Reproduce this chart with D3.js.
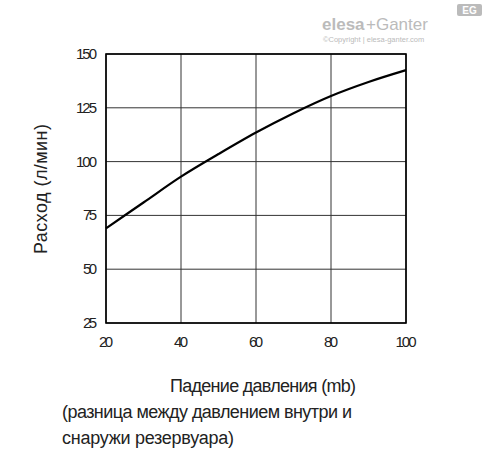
<!DOCTYPE html>
<html><head><meta charset="utf-8">
<script src="https://cdn.jsdelivr.net/npm/d3@7"></script>
<style>body{margin:0;background:#fff}</style>
</head><body>
<script>
const pressure = [20, 30, 40, 50, 60, 70, 80, 90, 100];
const flow = [69, 81, 93, 103.5, 113.5, 122.5, 130.5, 137, 142.5];
const xTicks = [20, 40, 60, 80, 100];
const yTicks = [25, 50, 75, 100, 125, 150];

const svg = d3.select('body').append('svg').attr('width', 488).attr('height', 454);
const x = d3.scaleLinear().domain([20, 100]).range([106, 406]);
const y = d3.scaleLinear().domain([25, 150]).range([323, 54]);
const font = 'Arial, "Liberation Sans", sans-serif';

// grid
svg.append('g').selectAll('line').data(xTicks).join('line')
    .attr('x1', d => x(d)).attr('x2', d => x(d)).attr('y1', y(150)).attr('y2', y(25))
    .attr('stroke', '#333').attr('stroke-width', 1);
svg.append('g').selectAll('line').data(yTicks).join('line')
    .attr('x1', x(20)).attr('x2', x(100)).attr('y1', d => y(d)).attr('y2', d => y(d))
    .attr('stroke', '#333').attr('stroke-width', 1);
svg.append('rect').attr('x', x(20)).attr('y', y(150))
    .attr('width', x(100) - x(20)).attr('height', y(25) - y(150))
    .attr('fill', 'none').attr('stroke', '#000').attr('stroke-width', 1.6);

// tick labels
svg.append('g').selectAll('text').data(xTicks).join('text')
    .attr('x', d => x(d)).attr('y', 347).attr('text-anchor', 'middle')
    .attr('font-family', font).attr('font-size', 15).attr('textLength', d => String(d).length * 7)
    .attr('fill', '#222').text(d => d);
svg.append('g').selectAll('text').data(yTicks).join('text')
    .attr('x', 97).attr('y', d => y(d) + 5).attr('text-anchor', 'end')
    .attr('font-family', font).attr('font-size', 15).attr('textLength', d => String(d).length * 7)
    .attr('fill', '#222').text(d => d);

// curve
svg.append('path').datum(pressure.map((p, i) => [p, flow[i]]))
    .attr('d', d3.line().x(d => x(d[0])).y(d => y(d[1])).curve(d3.curveCatmullRom))
    .attr('fill', 'none').attr('stroke', '#000').attr('stroke-width', 2.2);

// titles
svg.append('text').attr('transform', 'translate(47,189) rotate(-90)')
    .attr('text-anchor', 'middle').attr('font-family', font).attr('font-size', 18)
    .attr('textLength', 130).attr('fill', '#222').text('Расход (л/мин)');
[['Падение давления (mb)', 170, 392, 186], ['(разница между давлением внутри и', 62, 418, 290],
 ['снаружи резервуара)', 62, 444, 172]].forEach(([t, tx, ty, w]) => {
    svg.append('text').attr('x', tx).attr('y', ty).attr('font-family', font)
        .attr('font-size', 18).attr('textLength', w).attr('fill', '#222').text(t);
});

// logo
svg.append('text').attr('x', 322).attr('y', 30).attr('font-family', font).attr('font-size', 17)
    .attr('font-weight', 'bold').attr('fill', '#bbb').text('elesa');
svg.append('text').attr('x', 366).attr('y', 30).attr('font-family', font).attr('font-size', 17)
    .attr('fill', '#bbb').text('+Ganter');
svg.append('rect').attr('x', 457).attr('y', 4).attr('width', 25).attr('height', 12).attr('rx', 2).attr('fill', '#bbb');
svg.append('text').attr('x', 469.5).attr('y', 14).attr('text-anchor', 'middle').attr('font-family', font)
    .attr('font-size', 10).attr('font-weight', 'bold').attr('fill', '#fff').text('EG');
svg.append('text').attr('x', 323).attr('y', 42).attr('font-family', font).attr('font-size', 7.5)
    .attr('fill', '#bbb').text('©Copyright | elesa-ganter.com');
</script>
</body></html>
